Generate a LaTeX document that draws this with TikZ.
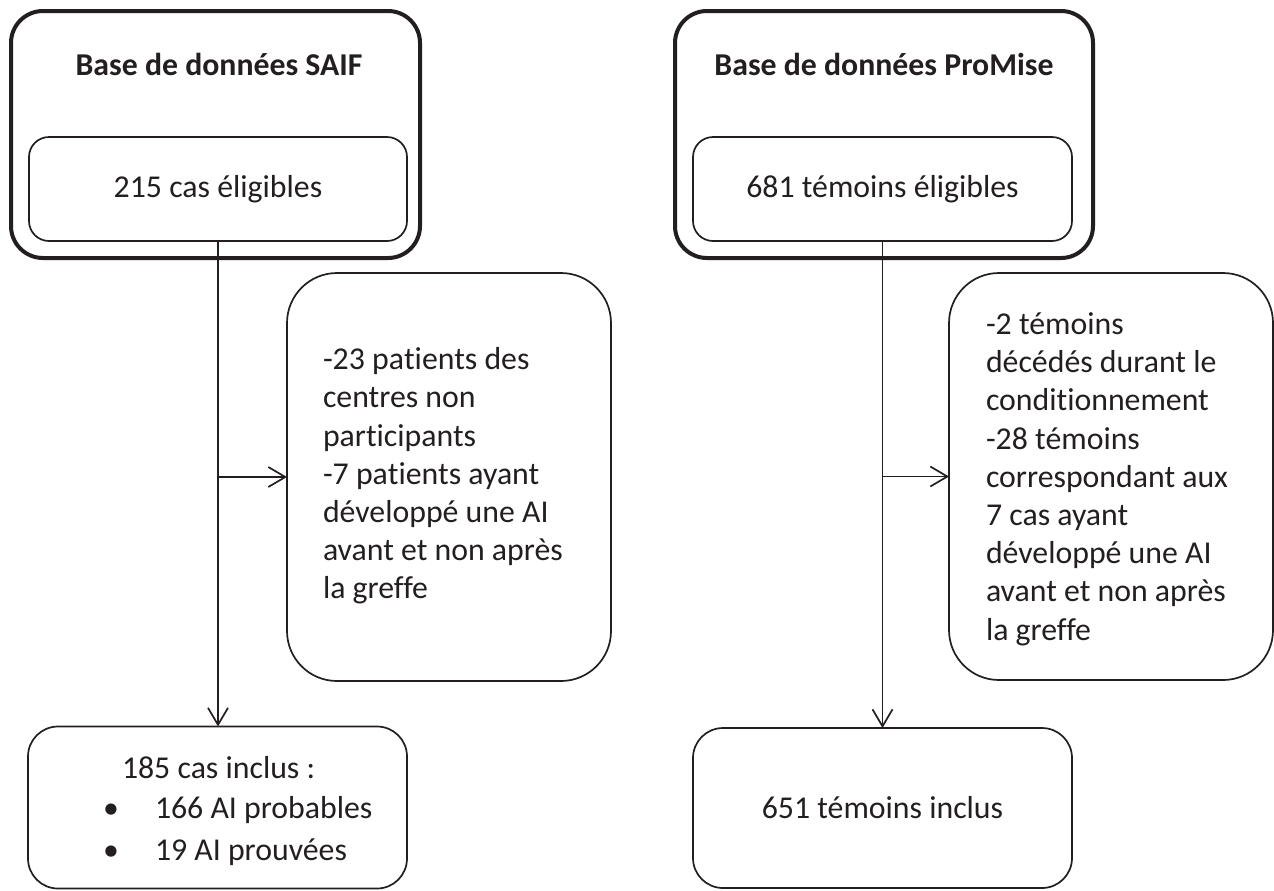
\documentclass[tikz,border=0pt]{standalone}
\usepackage{fontspec}
\setmainfont{Carlito}[RawFeature={-liga;-dlig;-clig;-calt;-rlig}]
\usetikzlibrary{arrows.meta}
\definecolor{ink}{HTML}{231F20}
\begin{document}
\begin{tikzpicture}[x=0.5pt,y=-0.5pt,
  every node/.style={inner sep=0pt, outer sep=0pt, text=ink, font=\fontsize{15.9}{19.1}\selectfont},
  outerbox/.style={draw=ink, line width=2pt, rounded corners=16pt},
  innerbox/.style={draw=ink, line width=0.85pt, rounded corners=10pt},
  exclbox/.style={draw=ink, line width=0.85pt, rounded corners=25pt},
  resbox/.style={draw=ink, line width=0.85pt, rounded corners=15pt},
  titletext/.style={anchor=base, font=\fontsize{15.9}{19.1}\selectfont\bfseries},
  listtext/.style={align=left, anchor=west},
  flow/.style={draw=ink, line width=0.85pt},
  arr/.style={flow, -{Straight Barb[length=8.5pt,width=10pt,line width=0.85pt]}}
]
\fill[white] (0,0) rectangle (1274,890);
\useasboundingbox (0,0) rectangle (1274,890);

% ---- left column ----
\node[outerbox, minimum width=204.5pt, minimum height=123.5pt] (outerL) at (215.5,134.5) {};
\node[titletext] (titleL) at (219,75) {Base de données SAIF};
\node[innerbox, minimum width=189pt, minimum height=52pt] (innerL) at (218,189) {215 cas éligibles};
\node[exclbox, minimum width=162pt, minimum height=204pt] (exclL) at (449,477) {};
\node[listtext] (textL) at (323,476) {-23 pa\kern0pt tients des\\centres non\\par\kern0pt ticipants\\-7 pa\kern0pt tients ayant\\développé une AI\\avant et non après\\la greffe};
\node[resbox, minimum width=189.5pt, minimum height=81pt] (resL) at (217.5,807.5) {};
\node[anchor=base west] (incl) at (122,778) {185 cas inclus :};
\node[anchor=base] (b1) at (111,818) {\textbullet};
\node[anchor=base west] (l1) at (155,818) {166 AI probables};
\node[anchor=base] (b2) at (111,860) {\textbullet};
\node[anchor=base west] (l2) at (155,860) {19 AI prouvées};

\draw[arr] (innerL.south) -- (innerL.south |- resL.north);
\draw[arr] (innerL.south |- exclL.west) -- (exclL.west);

% ---- right column ----
\node[outerbox, minimum width=209pt, minimum height=123.5pt] (outerR) at (884,134.5) {};
\node[titletext] (titleR) at (884,75) {Base de données ProMise};
\node[innerbox, minimum width=189.5pt, minimum height=52pt] (innerR) at (882.5,189) {681 témoins éligibles};
\node[exclbox, minimum width=162pt, minimum height=203.5pt] (exclR) at (1111,476.5) {};
\node[listtext] (textR) at (986,479) {-2 témoins\\décédés durant le\\condi\kern0pt tionnement\\-28 témoins\\correspondant aux\\7 cas ayant\\développé une AI\\avant et non après\\la greffe};
\node[resbox, minimum width=189.5pt, minimum height=80pt] (resR) at (882.5,808) {651 témoins inclus};

\draw[arr] (innerR.south) -- (innerR.south |- resR.north);
\draw[arr] (innerR.south |- exclR.west) -- (exclR.west);
\end{tikzpicture}
\end{document}
